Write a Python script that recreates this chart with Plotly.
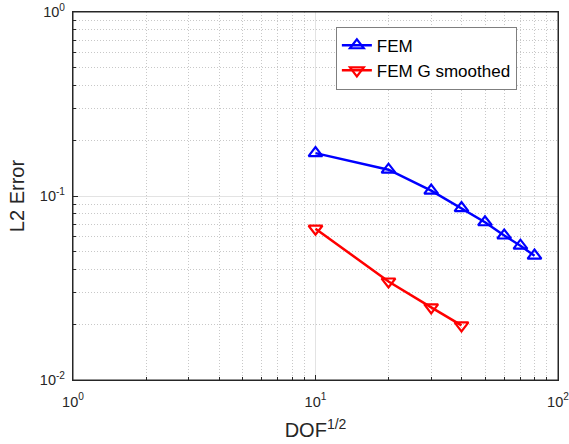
import plotly.graph_objects as go

# Data
fem_x = [10, 20, 30, 40, 50, 60, 70, 80]
fem_y = [0.171, 0.139, 0.107, 0.086, 0.072, 0.061, 0.0537, 0.0474]
gs_x = [10, 20, 30, 40]
gs_y = [0.0664, 0.0343, 0.0248, 0.0198]

x_major = [1, 10, 100]
x_major_text = ["10<sup>0</sup>", "10<sup>1</sup>", "10<sup>2</sup>"]
y_major = [0.01, 0.1, 1]
y_major_text = ["10<sup>-2</sup>", "10<sup>-1</sup>", "10<sup>0</sup>"]
x_minor = [k * 10 ** d for d in range(0, 2) for k in range(2, 10)]
y_minor = [k * 10 ** d for d in range(-2, 0) for k in range(2, 10)]

font_family = "Liberation Sans, Arial, Helvetica, sans-serif"
axis_color = "#262626"

fig = go.Figure()
fig.add_trace(go.Scatter(
    x=fem_x, y=fem_y, mode="lines+markers", name="FEM",
    line=dict(color="#0000ff", width=2.5),
    marker=dict(symbol="triangle-up-open", size=12, color="#0000ff",
                line=dict(width=2.2, color="#0000ff")),
))
fig.add_trace(go.Scatter(
    x=gs_x, y=gs_y, mode="lines+markers", name="FEM G smoothed",
    line=dict(color="#ff0000", width=2.5),
    marker=dict(symbol="triangle-down-open", size=12, color="#ff0000",
                line=dict(width=2.2, color="#ff0000")),
))

common = dict(
    showline=True, linecolor=axis_color, linewidth=1.2, mirror=True,
    ticks="inside", ticklen=5, tickwidth=1, tickcolor=axis_color,
    showgrid=True, gridcolor="#e3e3e3", gridwidth=1,
    zeroline=False, automargin=False, ticklabeloverflow="allow",
    tickfont=dict(family=font_family, size=14.5, color=axis_color),
)

minor_common = dict(tickmode="array", ticks="inside", ticklen=3,
                    tickcolor=axis_color, showgrid=True, gridcolor="#c8c8c8",
                    griddash="1px,2px", gridwidth=1)

fig.update_xaxes(
    type="log", range=[0, 2], tickmode="array",
    tickvals=x_major, ticktext=x_major_text, ticklabelstandoff=8,
    title=dict(text="DOF<sup>1/2</sup>", font=dict(family=font_family, size=20, color=axis_color), standoff=14),
    minor=dict(tickvals=x_minor, **minor_common),
    **common,
)
fig.update_yaxes(
    type="log", range=[-2, 0], tickmode="array",
    tickvals=y_major, ticktext=y_major_text, ticklabelstandoff=4,
    title=dict(text="L2 Error", font=dict(family=font_family, size=20, color=axis_color), standoff=9),
    minor=dict(tickvals=y_minor, **minor_common),
    **common,
)

# axes box (frame)
fig.add_shape(type="rect", xref="paper", yref="paper", x0=0, y0=0, x1=1, y1=1,
              line=dict(color=axis_color, width=1), fillcolor="rgba(0,0,0,0)",
              layer="above")

fig.update_layout(
    width=569, height=444,
    margin=dict(l=73, r=11, t=12, b=64),
    plot_bgcolor="white", paper_bgcolor="white",
    font=dict(family=font_family, color=axis_color),
    legend=dict(
        x=0.542, y=0.96, xanchor="left", yanchor="top",
        bgcolor="white", bordercolor="#7f7f7f", borderwidth=1,
        font=dict(family=font_family, size=17, color="black"),
        tracegroupgap=0, itemwidth=30,
    ),
    showlegend=True,
)

fig.write_html(
    "out.html",
    config={"displayModeBar": False},
    post_script="document.body.style.margin='0';document.body.style.padding='0';",
)
